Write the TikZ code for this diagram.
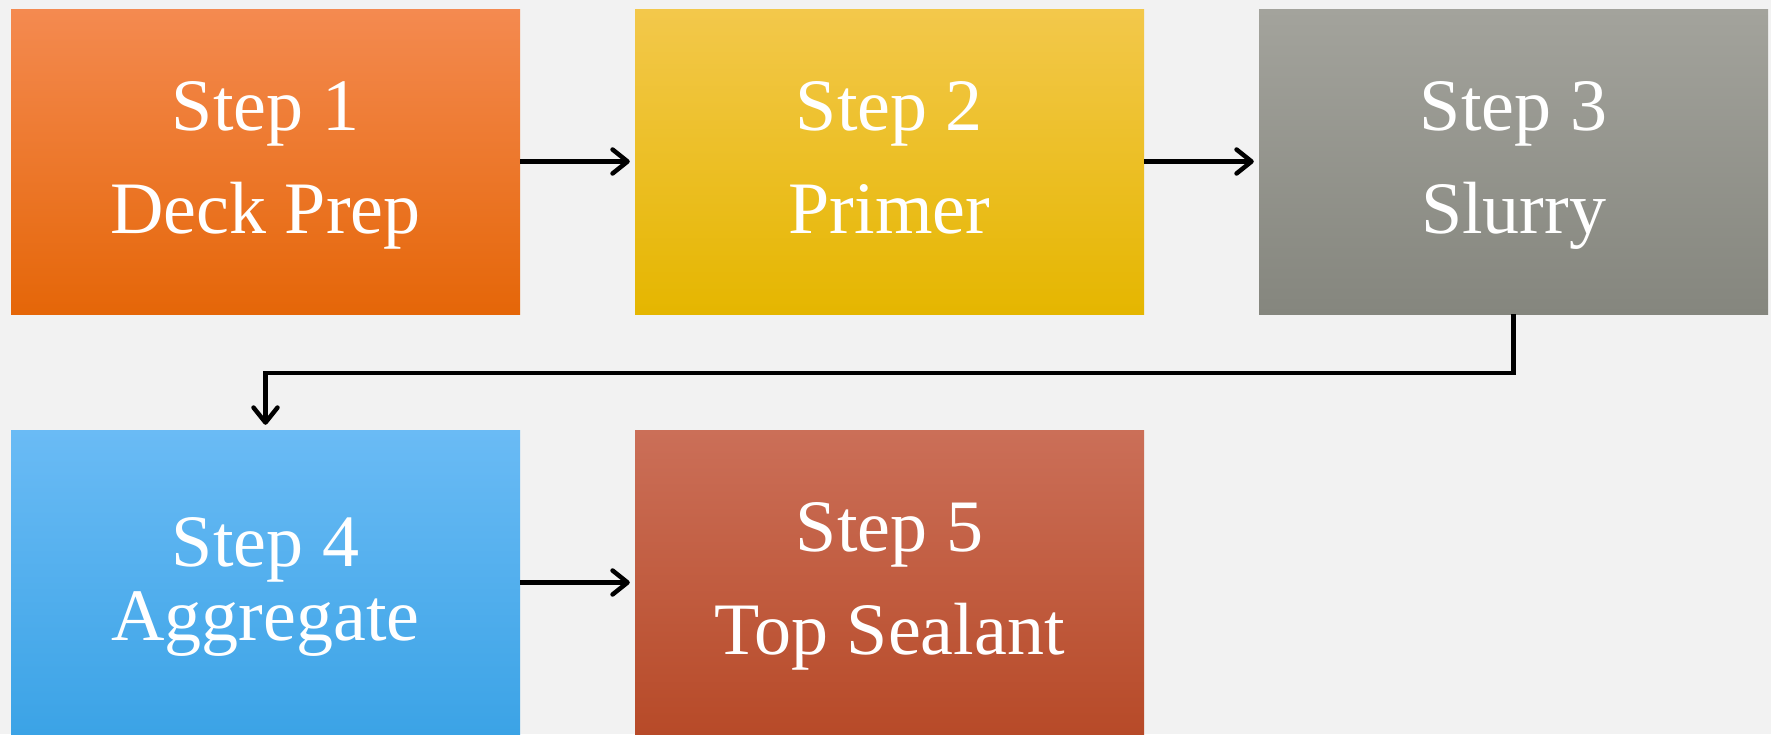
\documentclass[tikz,border=0pt]{standalone}
\usepackage{fontspec}
\setmainfont{Liberation Serif}
\usetikzlibrary{arrows.meta}
\definecolor{bg}{RGB}{242,242,242}
\definecolor{oT}{RGB}{244,138,80}\definecolor{oM}{RGB}{247,122,27}\definecolor{oB}{RGB}{229,102,8}
\definecolor{yT}{RGB}{243,200,75}\definecolor{yM}{RGB}{248,199,15}\definecolor{yB}{RGB}{229,182,0}
\definecolor{gT}{RGB}{163,163,156}\definecolor{gM}{RGB}{148,148,141}\definecolor{gB}{RGB}{133,134,126}
\definecolor{bT}{RGB}{106,187,245}\definecolor{bM}{RGB}{73,181,250}\definecolor{bB}{RGB}{59,163,230}
\definecolor{rT}{RGB}{203,111,88}\definecolor{rM}{RGB}{197,87,48}\definecolor{rB}{RGB}{183,74,40}
\begin{document}
\begin{tikzpicture}[x=1pt,y=-1pt,
  stepbox/.style={rectangle, minimum width=509pt, minimum height=305pt, inner sep=0pt,
    text=white, align=center, font=\fontsize{74}{103}\selectfont},
  conn/.style={line width=4.5pt, -{Straight Barb[length=15pt,width=24pt,round]}, shorten >=5pt}]
\useasboundingbox (0,0) rectangle (1771,734);
\fill[bg] (0,0) rectangle (1771,734);
\node[stepbox, top color=oT, middle color=oM, bottom color=oB] (s1) at (265.5,161.5) {\strut Step 1\\\strut Deck Prep};
\node[stepbox, top color=yT, middle color=yM, bottom color=yB] (s2) at (889.5,161.5) {\strut Step 2\\\strut Primer};
\node[stepbox, top color=gT, middle color=gM, bottom color=gB] (s3) at (1513.5,161.5) {\strut Step 3\\\strut Slurry};
\node[stepbox, top color=bT, middle color=bM, bottom color=bB] (s4) at (265.5,582.5) {\strut Step 4\\[-29pt]\strut Aggregate};
\node[stepbox, top color=rT, middle color=rM, bottom color=rB] (s5) at (889.5,582.5) {\strut Step 5\\\strut Top Sealant};
\draw[conn] (s1) -- (s2);
\draw[conn] (s2) -- (s3);
\draw[conn] (s3.south) -- ++(0,59) -| (s4.north);
\draw[conn] (s4) -- (s5);
\end{tikzpicture}
\end{document}
